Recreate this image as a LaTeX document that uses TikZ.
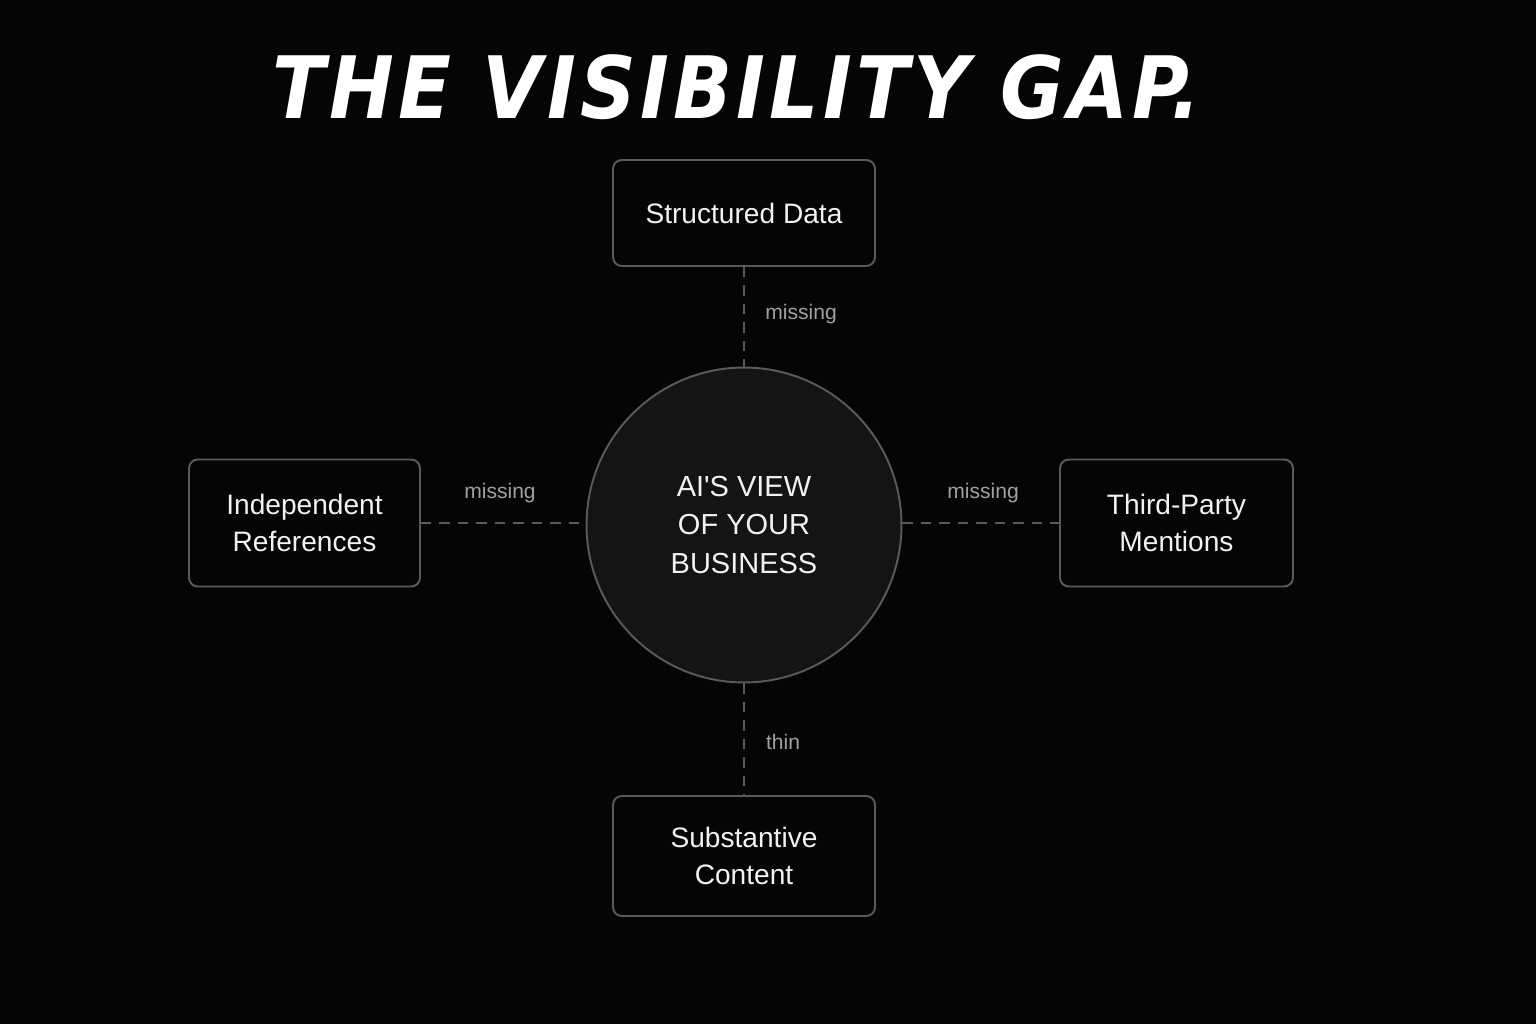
\documentclass[tikz,border=0pt]{standalone}
\usepackage{fontspec}
\setmainfont{Liberation Sans}
\newfontfamily\titlefont[LetterSpace=5]{DejaVu Sans Condensed}
\usetikzlibrary{positioning}
\definecolor{bgdark}{HTML}{050508}
\definecolor{edgegray}{HTML}{5A5A5A}
\definecolor{coregray}{HTML}{141414}
\definecolor{labelgray}{HTML}{A0A0A0}
\definecolor{textwhite}{HTML}{F2F2F2}

\begin{document}
\begin{tikzpicture}[x=0.02cm, y=-0.02cm, line width=1.1pt,
  srcbox/.style={draw=edgegray, fill=bgdark, rounded corners=5pt, align=center, text=textwhite,
    font=\fontsize{16}{21}\selectfont, inner sep=0pt},
  gaplink/.style={draw=edgegray, line width=1.4pt, dash pattern=on 6pt off 4.5pt},
  gaplabel/.style={text=labelgray, font=\fontsize{12}{14}\selectfont}]
% ---- canvas
\fill[bgdark] (0,0) rectangle (1536,1024);
\useasboundingbox (0,0) rectangle (1536,1024);
% ---- title
\node[text=white, font=\titlefont\fontsize{49}{54}\bfseries\itshape\selectfont] (title) at (737,87) {THE VISIBILITY GAP.};
% ---- centre
\node[circle, draw=edgegray, fill=coregray, minimum size=6.3cm, align=center, text=textwhite,
  font=\fontsize{16.5}{22}\selectfont] (core) at (744,525) {AI\textquotesingle S VIEW\\ OF YOUR\\ BUSINESS};
% ---- the four sources
\node[srcbox, minimum width=5.24cm, minimum height=2.12cm] (struct) at (744,213) {Structured Data};
\node[srcbox, minimum width=4.62cm, minimum height=2.54cm] (indep) at (304.5,523) {Independent\\ References};
\node[srcbox, minimum width=4.66cm, minimum height=2.54cm] (third) at (1176.5,523) {Third-Party\\ Mentions};
\node[srcbox, minimum width=5.24cm, minimum height=2.40cm] (subst) at (744,856) {Substantive\\ Content};
% ---- dashed gaps
\draw[gaplink] (struct.south) -- (core.north);
\draw[gaplink] (indep.east) -- (indep.east -| core.west);
\draw[gaplink] (third.west -| core.east) -- (third.west);
\draw[gaplink] (core.south) -- (subst.north);
\node[gaplabel] (lbltop) at (801,314) {missing};
\node[gaplabel] (lblleft) at (500,493) {missing};
\node[gaplabel] (lblright) at (983,493) {missing};
\node[gaplabel] (lblbot) at (783,742) {thin};
\end{tikzpicture}
\end{document}
